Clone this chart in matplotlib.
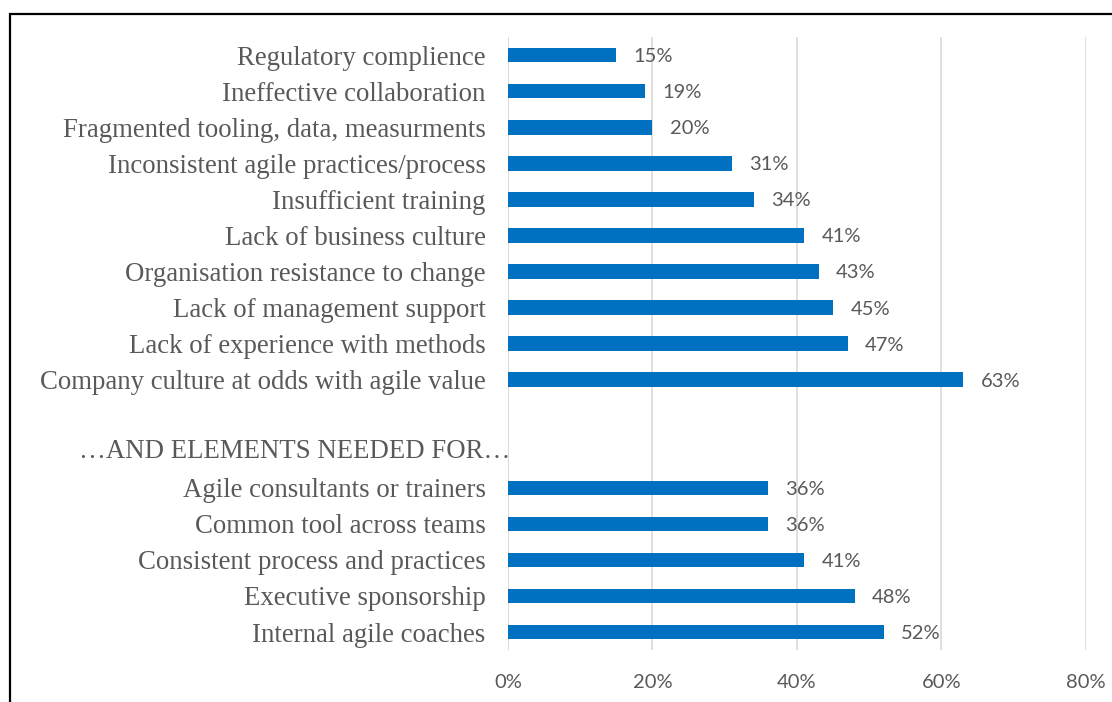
import matplotlib
matplotlib.use("Agg")
from matplotlib import pyplot as plt
from matplotlib.patches import Rectangle

# top group (challenges) and bottom group (elements needed)
challenges = ["Regulatory complience", "Ineffective collaboration",
              "Fragmented tooling, data, measurments",
              "Inconsistent agile practices/process", "Insufficient training",
              "Lack of business culture", "Organisation resistance to change",
              "Lack of management support", "Lack of experience with methods",
              "Company culture at odds with agile value"]
challenge_vals = [15, 19, 20, 31, 34, 41, 43, 45, 47, 63]

header = "\u2026AND ELEMENTS NEEDED FOR\u2026"

elements = ["Agile consultants or trainers", "Common tool across teams",
            "Consistent process and practices", "Executive sponsorship",
            "Internal agile coaches"]
element_vals = [36, 36, 41, 48, 52]

xticks = [0, 20, 40, 60, 80]

# one blank row, then the header row, between the two groups
labels = challenges + ["", ""] + elements
values = challenge_vals + [None, None] + element_vals
ypos = list(range(len(labels)))
header_row = len(challenges) + 1

gray = "#595959"
blue = "#0070C0"

fig = plt.figure(figsize=(11.12, 7.02), dpi=100)
ax = fig.add_axes([0.4568, 0.074, 0.5198, 0.873])

for y, v in zip(ypos, values):
    if v is None:
        continue
    ax.barh(y, v, height=0.4, color=blue, zorder=3)
    ax.text(v + 2.4, y + 0.04, f"{v}%", va="center", ha="left", fontsize=14.5,
            family="Lato", color=gray)

ax.text(0.4, header_row, header, va="center", ha="right",
        fontsize=19.3, family="Liberation Serif", color=gray)

ax.set_ylim(len(labels) - 0.5, -0.5)
ax.set_xlim(0, 80)
ax.set_yticks(ypos)
ax.set_yticklabels(labels, family="Liberation Serif", fontsize=19.3, color=gray)
ax.set_xticks(xticks)
ax.set_xticklabels([f"{t}%" for t in xticks], family="Lato", fontsize=14.5, color=gray)
ax.tick_params(length=0)
ax.tick_params(axis="y", pad=16)
ax.tick_params(axis="x", pad=17)
ax.grid(axis="x", color="#d9d9d9", linewidth=1.2, zorder=0)
ax.axvline(0, color="#d9d9d9", linewidth=1.2, zorder=1)
for s in ax.spines.values():
    s.set_visible(False)

# outer frame, cut off at the right and bottom edges
fig.patches.append(Rectangle((10 / 1112, -0.05), 1.2, 1 - 14 / 702 + 0.05,
                             transform=fig.transFigure, fill=False,
                             edgecolor="black", linewidth=1.6))

plt.savefig("out.png", dpi=100)
